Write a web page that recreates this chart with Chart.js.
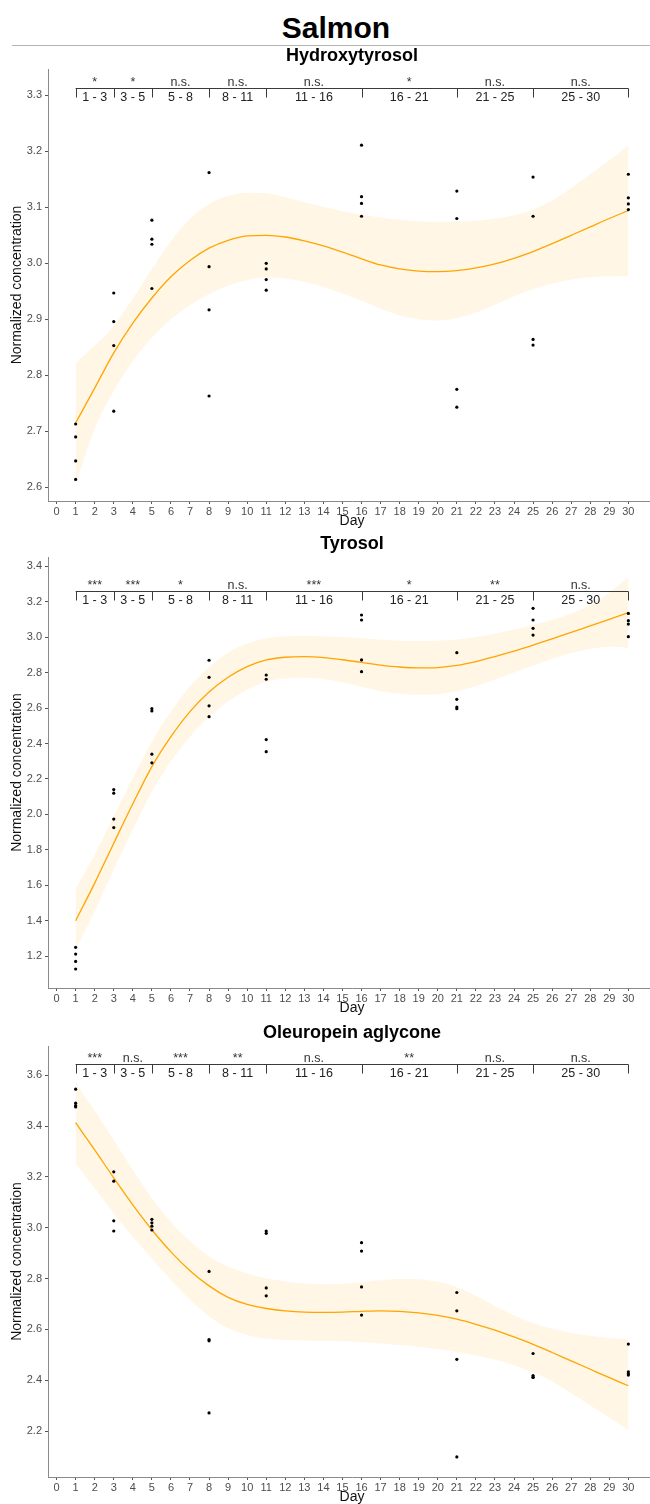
<!DOCTYPE html>
<html>
<head>
<meta charset="utf-8">
<script src="https://cdn.jsdelivr.net/npm/chart.js@4.4.1/dist/chart.umd.min.js"></script>
<style>
  html, body { margin: 0; padding: 0; background: #fff; }
  body { width: 650px; height: 1504px; overflow: hidden; position: relative; font-family: "Liberation Sans", Arial, sans-serif; }
  #mainTitle { position: absolute; left: 0; top: 12px; width: 672px; text-align: center; font-weight: bold; font-size: 30px; line-height: 32px; color: #000; }
  #rule { position: absolute; left: 12px; top: 45px; width: 660px; height: 1px; background: #b5b5b5; }
  canvas { position: absolute; left: 0; }
</style>
</head>
<body>
<div id="mainTitle">Salmon</div>
<div id="rule"></div>
<canvas id="c1" width="660" height="487" style="top:46px"></canvas>
<canvas id="c2" width="660" height="487" style="top:533px"></canvas>
<canvas id="c3" width="660" height="489" style="top:1020px"></canvas>

<script>
// Días de muestreo y días del ajuste
const sampleDays = [1, 3, 5, 8, 11, 16, 21, 25, 30];
const fitDays = [1, 2, 3, 4, 5, 6, 7, 8, 9, 10, 11, 12, 13, 14, 15, 16, 17, 18, 19, 20, 21, 22, 23, 24, 25, 26, 27, 28, 29, 30];
const dayTicks = [0, 1, 2, 3, 4, 5, 6, 7, 8, 9, 10, 11, 12, 13, 14, 15, 16, 17, 18, 19, 20, 21, 22, 23, 24, 25, 26, 27, 28, 29, 30];

// Comparaciones entre días
const compBounds = [1, 3, 5, 8, 11, 16, 21, 25, 30];
const compLabels = ['1 - 3', '3 - 5', '5 - 8', '8 - 11', '11 - 16', '16 - 21', '21 - 25', '25 - 30'];

// Hydroxytyrosol
const hydroxyPts = [
  [2.713, 2.690, 2.647, 2.614],
  [2.947, 2.896, 2.853, 2.736],
  [3.077, 3.043, 3.034, 2.955],
  [3.162, 2.994, 2.917, 2.763],
  [3.000, 2.990, 2.971, 2.952],
  [3.211, 3.119, 3.107, 3.084],
  [3.129, 3.080, 2.775, 2.743],
  [3.154, 3.084, 2.864, 2.854],
  [3.159, 3.117, 3.106, 3.096]
];
const hydroxyFit = [2.715, 2.777, 2.840, 2.893, 2.938, 2.976, 3.005, 3.027, 3.041, 3.049, 3.050, 3.047, 3.040, 3.031, 3.020,
  3.008, 2.997, 2.990, 2.986, 2.985, 2.987, 2.992, 2.999, 3.009, 3.021, 3.035, 3.050, 3.065, 3.080, 3.094];
const hydroxyUpper = [2.821, 2.853, 2.888, 2.937, 2.990, 3.040, 3.080, 3.106, 3.120, 3.126, 3.125, 3.118, 3.109, 3.101, 3.093,
  3.087, 3.082, 3.078, 3.075, 3.074, 3.074, 3.076, 3.080, 3.086, 3.096, 3.112, 3.134, 3.159, 3.184, 3.211];
const hydroxyLower = [2.605, 2.705, 2.772, 2.825, 2.867, 2.900, 2.925, 2.945, 2.960, 2.970, 2.975, 2.973, 2.967, 2.958, 2.946,
  2.933, 2.919, 2.907, 2.900, 2.898, 2.902, 2.912, 2.926, 2.941, 2.954, 2.964, 2.971, 2.975, 2.977, 2.977];
const hydroxySig = ['*', '*', 'n.s.', 'n.s.', 'n.s.', '*', 'n.s.', 'n.s.'];
const hydroxyTicks = [2.6, 2.7, 2.8, 2.9, 3.0, 3.1, 3.2, 3.3];

// Tyrosol
const tyrosolPts = [
  [1.251, 1.213, 1.172, 1.129],
  [2.140, 2.120, 1.974, 1.926],
  [2.596, 2.583, 2.340, 2.291],
  [2.869, 2.773, 2.612, 2.551],
  [2.786, 2.762, 2.422, 2.354],
  [3.124, 3.096, 2.871, 2.805],
  [2.912, 2.649, 2.605, 2.596],
  [3.162, 3.096, 3.049, 3.011],
  [3.133, 3.092, 3.073, 3.002]
];
const tyrosolFit = [1.401, 1.613, 1.838, 2.060, 2.270, 2.439, 2.580, 2.690, 2.773, 2.833, 2.871, 2.886, 2.889, 2.884, 2.872,
  2.857, 2.842, 2.831, 2.826, 2.828, 2.840, 2.862, 2.890, 2.920, 2.954, 2.990, 3.026, 3.063, 3.100, 3.137];
const tyrosolUpper = [1.580, 1.775, 1.990, 2.205, 2.410, 2.580, 2.722, 2.830, 2.912, 2.963, 2.993, 3.004, 3.007, 3.005, 3.000,
  2.993, 2.985, 2.979, 2.977, 2.979, 2.986, 3.000, 3.019, 3.042, 3.068, 3.098, 3.133, 3.180, 3.250, 3.335];
const tyrosolLower = [1.240, 1.455, 1.690, 1.915, 2.130, 2.300, 2.440, 2.550, 2.636, 2.703, 2.748, 2.766, 2.770, 2.763, 2.745,
  2.720, 2.695, 2.680, 2.674, 2.678, 2.694, 2.722, 2.760, 2.800, 2.838, 2.877, 2.910, 2.933, 2.945, 2.940];
const tyrosolSig = ['***', '***', '*', 'n.s.', '***', '*', '**', 'n.s.'];
const tyrosolTicks = [1.2, 1.4, 1.6, 1.8, 2.0, 2.2, 2.4, 2.6, 2.8, 3.0, 3.2, 3.4];

// Oleuropein aglycone
const oleuPts = [
  [3.545, 3.490, 3.480, 3.475],
  [3.220, 3.183, 3.027, 2.987],
  [3.033, 3.019, 3.006, 2.991],
  [2.828, 2.560, 2.555, 2.271],
  [2.987, 2.978, 2.763, 2.732],
  [2.941, 2.908, 2.767, 2.656],
  [2.745, 2.673, 2.482, 2.098],
  [2.505, 2.418, 2.412, 2.411],
  [2.542, 2.433, 2.425, 2.420]
];
const oleuFit = [3.413, 3.306, 3.196, 3.090, 2.992, 2.905, 2.831, 2.771, 2.726, 2.698, 2.682, 2.673, 2.668, 2.667, 2.668,
  2.671, 2.673, 2.671, 2.665, 2.655, 2.640, 2.620, 2.597, 2.570, 2.541, 2.509, 2.476, 2.443, 2.410, 2.378];
const oleuUpper = [3.570, 3.460, 3.345, 3.228, 3.117, 3.023, 2.948, 2.888, 2.847, 2.820, 2.801, 2.788, 2.780, 2.777, 2.779,
  2.785, 2.793, 2.798, 2.797, 2.787, 2.766, 2.732, 2.692, 2.655, 2.625, 2.602, 2.586, 2.575, 2.566, 2.560];
const oleuLower = [3.253, 3.155, 3.057, 2.964, 2.878, 2.794, 2.716, 2.651, 2.605, 2.578, 2.564, 2.558, 2.556, 2.555, 2.553,
  2.549, 2.544, 2.538, 2.531, 2.522, 2.511, 2.497, 2.480, 2.459, 2.431, 2.395, 2.350, 2.300, 2.252, 2.203];
const oleuSig = ['***', 'n.s.', '***', '**', 'n.s.', '**', 'n.s.', 'n.s.'];
const oleuTicks = [2.2, 2.4, 2.6, 2.8, 3.0, 3.2, 3.4, 3.6];

const fontFam = '"Liberation Sans", Arial, Helvetica, sans-serif';

// Plugin: título del panel y corchetes de comparación
const anotaciones = {
  id: 'anotaciones',
  afterDraw(chart, args, o) {
    const { ctx, chartArea, scales: { x, y } } = chart;
    ctx.save();
    ctx.fillStyle = '#000';
    ctx.textAlign = 'center';
    ctx.textBaseline = 'middle';
    ctx.font = 'bold 18px ' + fontFam;
    ctx.fillText(o.title, (chartArea.left + chartArea.right) / 2, chartArea.top - 13);

    const yl = Math.round(y.getPixelForValue(o.level)) + 0.5;
    ctx.strokeStyle = '#3a3a3a';
    ctx.lineWidth = 1;
    ctx.beginPath();
    ctx.moveTo(x.getPixelForValue(compBounds[0]), yl);
    ctx.lineTo(x.getPixelForValue(compBounds[compBounds.length - 1]), yl);
    compBounds.forEach(d => {
      const px = Math.round(x.getPixelForValue(d)) + 0.5;
      ctx.moveTo(px, yl);
      ctx.lineTo(px, yl + 9);
    });
    ctx.stroke();

    compLabels.forEach((lab, i) => {
      const mid = (x.getPixelForValue(compBounds[i]) + x.getPixelForValue(compBounds[i + 1])) / 2;
      ctx.font = '12.5px ' + fontFam;
      ctx.fillStyle = '#222';
      ctx.textBaseline = 'middle';
      ctx.fillText(lab, mid, yl + 9);
      ctx.fillStyle = '#333';
      ctx.textBaseline = 'alphabetic';
      ctx.fillText(o.sig[i], mid, yl - 3);
    });
    ctx.restore();
  }
};

function crearPanel(id, cfg) {
  const puntos = [];
  cfg.pts.forEach((vals, i) => vals.forEach(v => puntos.push({ x: sampleDays[i], y: v })));
  const aPuntos = arr => arr.map((v, i) => ({ x: fitDays[i], y: v }));

  new Chart(document.getElementById(id), {
    type: 'scatter',
    data: {
      datasets: [
        { data: puntos, pointRadius: 1.6, pointBackgroundColor: '#000', pointBorderWidth: 0, order: 0 },
        { data: aPuntos(cfg.fit), showLine: true, borderColor: '#FFA500', borderWidth: 1.3, pointRadius: 0,
          cubicInterpolationMode: 'monotone', fill: false, order: 1 },
        { data: aPuntos(cfg.upper), showLine: true, borderWidth: 0, borderColor: 'rgba(0,0,0,0)', pointRadius: 0,
          cubicInterpolationMode: 'monotone', fill: '+1', backgroundColor: 'rgba(255,165,0,0.1)', order: 2 },
        { data: aPuntos(cfg.lower), showLine: true, borderWidth: 0, borderColor: 'rgba(0,0,0,0)', pointRadius: 0,
          cubicInterpolationMode: 'monotone', fill: false, order: 3 }
      ]
    },
    options: {
      responsive: false,
      animation: false,
      events: [],
      layout: { padding: { top: cfg.padTop, left: 0, right: 0, bottom: 0 } },
      plugins: {
        legend: { display: false },
        tooltip: { enabled: false },
        anotaciones: { title: cfg.title, level: cfg.level, sig: cfg.sig }
      },
      scales: {
        x: {
          type: 'linear', min: -0.45, max: 31.45,
          afterBuildTicks: a => { a.ticks = dayTicks.map(v => ({ value: v })); },
          afterFit: s => { s.height = 32; },
          grid: { display: true, drawOnChartArea: false, drawTicks: true, tickLength: 3, color: '#555' },
          border: { display: true, color: '#8a8a8a', width: 1 },
          ticks: { autoSkip: false, maxRotation: 0, padding: 1, color: '#4d4d4d', font: { size: 11, family: fontFam } },
          title: { display: true, text: 'Day', color: '#111', font: { size: 14, family: fontFam }, padding: { top: 0, bottom: 3 } }
        },
        y: {
          type: 'linear', min: cfg.ymin, max: cfg.ymax,
          afterBuildTicks: a => { a.ticks = cfg.ticks.map(v => ({ value: v })); },
          afterFit: s => { s.width = 48; },
          grid: { display: true, drawOnChartArea: false, drawTicks: true, tickLength: 3, color: '#555' },
          border: { display: true, color: '#8a8a8a', width: 1 },
          ticks: { padding: 3, color: '#4d4d4d', font: { size: 11, family: fontFam }, callback: v => Number(v).toFixed(1) },
          title: { display: true, text: 'Normalized concentration', color: '#111', font: { size: 14, family: fontFam }, padding: { top: 9, bottom: 0 } }
        }
      }
    },
    plugins: [anotaciones]
  });
}

crearPanel('c1', { title: 'Hydroxytyrosol', pts: hydroxyPts, fit: hydroxyFit, upper: hydroxyUpper, lower: hydroxyLower,
  sig: hydroxySig, ticks: hydroxyTicks, ymin: 2.5755, ymax: 3.347, level: 3.313, padTop: 23 });
crearPanel('c2', { title: 'Tyrosol', pts: tyrosolPts, fit: tyrosolFit, upper: tyrosolUpper, lower: tyrosolLower,
  sig: tyrosolSig, ticks: tyrosolTicks, ymin: 1.022, ymax: 3.451, level: 3.259, padTop: 24 });
crearPanel('c3', { title: 'Oleuropein aglycone', pts: oleuPts, fit: oleuFit, upper: oleuUpper, lower: oleuLower,
  sig: oleuSig, ticks: oleuTicks, ymin: 2.019, ymax: 3.715, level: 3.644, padTop: 26 });
</script>
</body>
</html>
